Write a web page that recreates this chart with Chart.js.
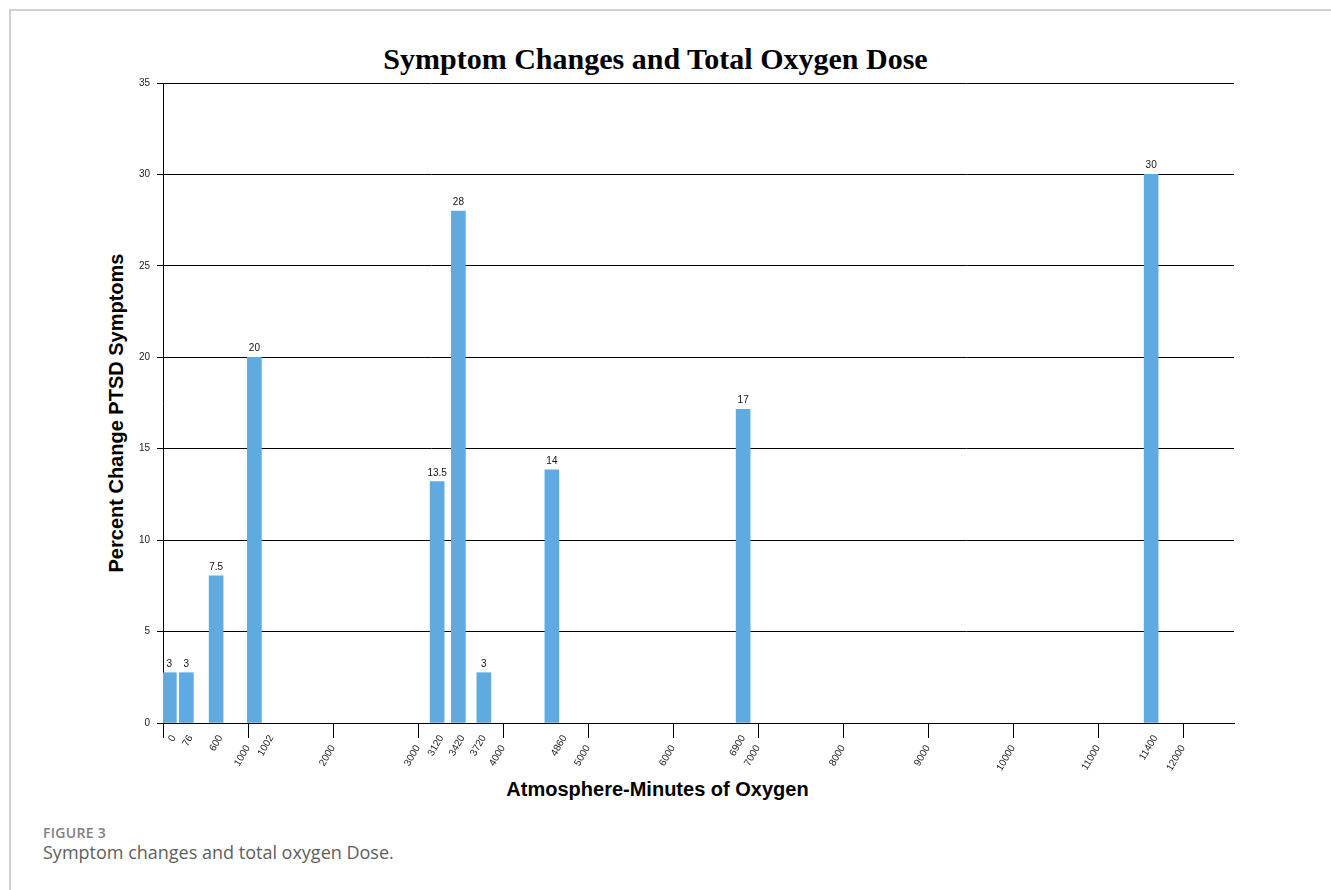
<!DOCTYPE html>
<html>
<head>
<meta charset="utf-8">
<script src="https://cdn.jsdelivr.net/npm/chart.js@4/dist/chart.umd.min.js"></script>
<style>
  html, body { margin:0; padding:0; background:#fff; width:1331px; height:890px; overflow:hidden; }
  body { position:relative; font-family:"Liberation Sans", Arial, sans-serif; }
  #frame { position:absolute; left:9px; top:9px; width:1330px; height:890px; border-left:2px solid #d0d0d0; border-top:2px solid #d0d0d0; box-sizing:border-box; }
  #title { position:absolute; left:0; width:1311px; top:44px; text-align:center; font:bold 30px "Liberation Serif", "DejaVu Serif", serif; line-height:30px; color:#000; }
  #ytitle { position:absolute; left:-83px; top:401px; width:400px; height:24px; line-height:24px; text-align:center; transform:rotate(-90deg); font:bold 20px "Liberation Sans", Arial, sans-serif; color:#000; }
  #xtitle { position:absolute; left:0; width:1315px; top:778px; height:24px; line-height:24px; text-align:center; font:bold 20px "Liberation Sans", Arial, sans-serif; color:#000; }
  #wrap { position:absolute; left:100px; top:70px; width:1160px; height:720px; }
  #fig { position:absolute; left:43px; top:823px; font:600 14px "Open Sans", sans-serif; color:#808080; letter-spacing:0.3px; }
  #cap { position:absolute; left:43px; top:840px; font:400 18px "Open Sans", sans-serif; color:#5e5e5e; }
</style>
</head>
<body>
<div id="frame"></div>
<div id="title">Symptom Changes and Total Oxygen Dose</div>
<div id="ytitle">Percent Change PTSD Symptoms</div>
<div id="xtitle">Atmosphere-Minutes of Oxygen</div>
<div id="wrap"><canvas id="c" width="1160" height="720"></canvas></div>
<div id="fig">FIGURE 3</div>
<div id="cap">Symptom changes and total oxygen Dose.</div>
<script>
// ---- data ----
const doseLabels    = ["0", "76", "600", "1002", "3120", "3420", "3720", "4860", "6900", "11400"];
const percentChange = [2.75, 2.75, 8.05, 20, 13.2, 28, 2.75, 13.85, 17.15, 30];
const valueLabels   = ["3", "3", "7.5", "20", "13.5", "28", "3", "14", "17", "30"];
// category slot (of 50 atmosphere-minutes each) in which each bar, and its axis label, sits
const barSlots      = [1, 5, 12, 21, 64, 69, 75, 91, 136, 232];
const labelSlots    = [2, 6, 13, 25, 65, 70, 75, 94, 136, 233];
const doseTicks     = [0, 1000, 2000, 3000, 4000, 5000, 6000, 7000, 8000, 9000, 10000, 11000, 12000];
const yTicks        = [0, 5, 10, 15, 20, 25, 30, 35];
const slotSize  = 50;
const slotCount = 252;

// ---- build category table ----
const categories = Array.from({length: slotCount}, () => '');
const values = Array(slotCount).fill(null);
barSlots.forEach((s, i) => { values[s] = percentChange[i]; });
labelSlots.forEach((s, i) => { categories[s] = doseLabels[i]; });

const valueLabelPlugin = {
  id: 'valueLabels',
  afterDatasetsDraw(chart) {
    const meta = chart.getDatasetMeta(0);
    const ctx = chart.ctx;
    ctx.save();
    ctx.font = '10px "Liberation Sans", Arial, sans-serif';
    ctx.fillStyle = '#111';
    ctx.textAlign = 'center';
    ctx.textBaseline = 'alphabetic';
    barSlots.forEach((s, i) => {
      const el = meta.data[s];
      if (el) ctx.fillText(valueLabels[i], el.x, el.y - 6);
    });
    ctx.restore();
  }
};

new Chart(document.getElementById('c'), {
  type: 'bar',
  data: {
    labels: categories,
    datasets: [{
      data: values,
      backgroundColor: '#5eaae1',
      borderWidth: 0,
      barThickness: 14,
      skipNull: true
    }]
  },
  options: {
    responsive: false,
    animation: false,
    layout: { padding: { left: 0, right: 26, top: 13, bottom: 0 } },
    plugins: { legend: { display: false }, tooltip: { enabled: false }, title: { display: false } },
    scales: {
      x: {
        type: 'category',
        position: 'bottom',
        offset: true,
        grid: { display: false, drawTicks: false, drawOnChartArea: false },
        border: { display: true, color: '#000', width: 1 },
        ticks: {
          autoSkip: false, minRotation: 60, maxRotation: 60, padding: 10,
          font: { family: '"Liberation Sans", Arial, sans-serif', size: 10 }, color: '#222'
        },
        afterFit(scale) { scale.height = 67; }
      },
      x2: {
        type: 'linear',
        axis: 'x',
        position: { y: 0 },
        offset: false,
        min: 0,
        max: slotCount * slotSize,
        afterBuildTicks(scale) { scale.ticks = doseTicks.map(v => ({ value: v })); },
        grid: { offset: false, drawOnChartArea: false, drawTicks: true, tickLength: 15, color: '#000', tickColor: '#000', lineWidth: 1 },
        border: { display: false },
        ticks: {
          autoSkip: false, minRotation: 60, maxRotation: 60, padding: 5,
          font: { family: '"Liberation Sans", Arial, sans-serif', size: 10 }, color: '#222',
          callback: v => (v === 0 ? '' : String(v))
        }
      },
      y: {
        type: 'linear',
        min: 0,
        max: 35,
        afterBuildTicks(scale) { scale.ticks = yTicks.map(v => ({ value: v })); },
        grid: { color: '#000', lineWidth: 1, drawTicks: true, tickLength: 6, tickColor: '#000' },
        border: { display: true, color: '#000', width: 1 },
        ticks: { padding: 7, font: { family: '"Liberation Sans", Arial, sans-serif', size: 10 }, color: '#222' },
        afterFit(scale) { scale.width = 63; }
      }
    }
  },
  plugins: [valueLabelPlugin]
});
</script>
</body>
</html>
